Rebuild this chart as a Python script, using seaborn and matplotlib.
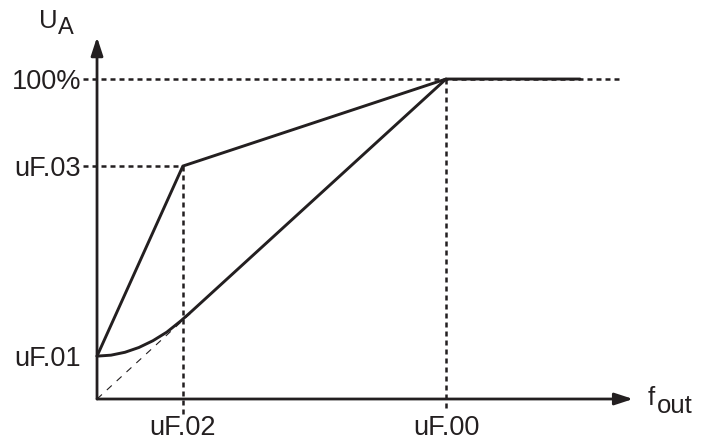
import numpy as np
import pandas as pd
import matplotlib
matplotlib.use('Agg')
import matplotlib.pyplot as plt
import seaborn as sns

# values in units of uF.00 (frequency) and 100% (voltage)
tick_f = [0.246, 1.0]
tick_f_labels = ['uF.02', 'uF.00']
tick_u = [0.134, 0.728, 1.0]
tick_u_labels = ['uF.01', 'uF.03', '100%']

linear_f = [0.0, 0.246, 1.0, 1.384]
linear_u = [0.134, 0.728, 1.0, 1.0]

curve_f = [0.0, 0.04, 0.08, 0.12, 0.16, 0.20, 0.24, 0.27, 1.0]
curve_u = [0.134, 0.137, 0.146, 0.161, 0.182, 0.209, 0.244, 0.273, 1.0]

ref_f = [0.0, 0.27]
ref_u = [0.0, 0.27]

ink = '#231f20'

sns.set_style('white')
plt.rcParams['font.family'] = ['Liberation Sans', 'DejaVu Sans']

fig = plt.figure(figsize=(7.06, 4.43), dpi=100)
ax = fig.add_axes([0, 0, 1, 1])
ax.set_xlim(-0.278, 1.745)
ax.set_ylim(-0.1375, 1.247)
ax.axis('off')

dash = (0, (2.0, 1.6))
glw = 1.8

# guide lines
ax.plot([-0.04, 1.496], [1.0, 1.0], color=ink, lw=glw, ls=dash)
ax.plot([-0.04, tick_f[0]], [tick_u[1], tick_u[1]], color=ink, lw=glw, ls=dash)
ax.plot([tick_f[0], tick_f[0]], [tick_u[1], -0.05], color=ink, lw=glw, ls=dash)
ax.plot([tick_f[1], tick_f[1]], [1.0, -0.04], color=ink, lw=glw, ls=dash)

# thin reference diagonal
ax.plot(ref_f, ref_u, color=ink, lw=0.8, ls=(0, (6, 6)))

df_lin = pd.DataFrame({'f': linear_f, 'u': linear_u})
df_curve = pd.DataFrame({'f': curve_f, 'u': curve_u})
sns.lineplot(data=df_lin, x='f', y='u', color=ink, lw=2.1, sort=False, estimator=None, ax=ax)
sns.lineplot(data=df_curve, x='f', y='u', color=ink, lw=2.1, sort=False, estimator=None, ax=ax)

# axes with arrows
arrow = dict(arrowstyle='-|>,head_length=1.1,head_width=0.36', color=ink, lw=2.0,
             mutation_scale=10, shrinkA=0, shrinkB=0)
ax.annotate('', xy=(0, 1.131), xytext=(0, 0), arrowprops=arrow)
ax.annotate('', xy=(1.536, 0), xytext=(0, 0), arrowprops=arrow)

fs = 19.5
for u, lab in zip(tick_u, tick_u_labels):
    ax.text(-0.045, u, lab, ha='right', va='center_baseline', fontsize=fs, color=ink)
for f, lab in zip(tick_f, tick_f_labels):
    ax.text(f, -0.114, lab, ha='center', va='baseline', fontsize=fs, color=ink)

# axis names with offset subscripts
ax.text(-0.165, 1.159, 'U', ha='left', va='baseline', fontsize=18.5, color=ink)
ax.text(-0.113, 1.141, 'A', ha='left', va='baseline', fontsize=17, color=ink)
ax.text(1.577, -0.019, 'f', ha='left', va='baseline', fontsize=18.5, color=ink)
ax.text(1.603, -0.044, 'out', ha='left', va='baseline', fontsize=18.5, color=ink)

fig.savefig('out.png', dpi=100)
